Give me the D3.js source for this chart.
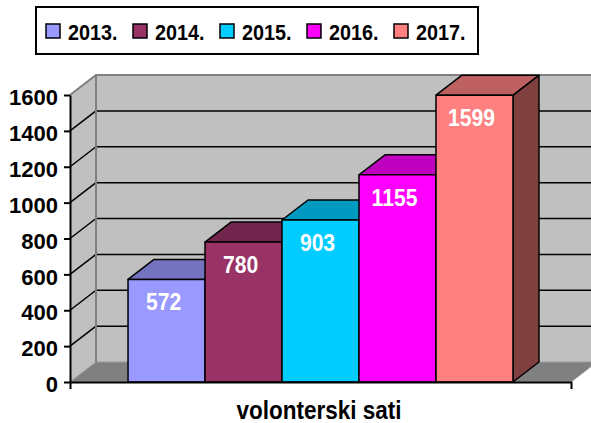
<!DOCTYPE html>
<html>
<head>
<meta charset="utf-8">
<script src="https://cdn.jsdelivr.net/npm/d3@7"></script>
<style>
  body { margin: 0; background: #fff; }
  svg { display: block; font-family: "Liberation Sans", Arial, sans-serif; font-weight: bold; }
</style>
</head>
<body>
<script>
// podaci
const category = ["volonterski sati"];
const years = ["2013.", "2014.", "2015.", "2016.", "2017."];
const hours = [572, 780, 903, 1155, 1599];
const colors = ["#9999ff", "#993366", "#00ccff", "#ff00ff", "#ff8080"];
const yTicks = [0, 200, 400, 600, 800, 1000, 1200, 1400, 1600];

const width = 591, height = 423;
const plot = { left: 70, right: 571, top: 95, bottom: 382 };
const depth = { dx: 26, dy: -20 };

const svg = d3.select("body").append("svg")
  .attr("width", width)
  .attr("height", height);

const yScale = d3.scaleLinear()
  .domain([0, 1600])
  .range([plot.bottom, plot.top]);
const x0 = d3.scaleBand()
  .domain(category)
  .range([plot.left, plot.right])
  .padding(0.131);
const x1 = d3.scaleBand()
  .domain(years)
  .range([0, x0.bandwidth()]);

function shade(c, k) {
  const r = d3.rgb(c);
  return d3.rgb(r.r * k, r.g * k, r.b * k).formatHex();
}
const pts = (arr) => arr.map(p => p.join(",")).join(" ");

// zidovi i pod
const yTop = yScale(1600), y0 = yScale(0);
const bx = plot.left + depth.dx;
svg.append("rect")
  .attr("x", bx).attr("y", yTop + depth.dy)
  .attr("width", width - bx + 10).attr("height", y0 - yTop)
  .attr("fill", "#c0c0c0");
svg.append("polygon")
  .attr("points", pts([[plot.left, y0], [bx, y0 + depth.dy], [bx, yTop + depth.dy], [plot.left, yTop]]))
  .attr("fill", "#c0c0c0");
svg.append("polygon")
  .attr("points", pts([[plot.left, y0], [bx, y0 + depth.dy], [plot.right + depth.dx, y0 + depth.dy], [plot.right, y0]]))
  .attr("fill", "#808080")
  .attr("stroke", "#999")
  .attr("stroke-width", 1);

// linije mreže
const grid = svg.append("g");
grid.selectAll("line.back")
  .data(yTicks.filter(d => d > 0 && d < 1600))
  .join("line")
  .attr("x1", bx).attr("x2", width)
  .attr("y1", d => yScale(d) + depth.dy).attr("y2", d => yScale(d) + depth.dy)
  .attr("stroke", "#000").attr("stroke-width", 1.5);
grid.selectAll("line.side")
  .data(yTicks.filter(d => d > 0 && d < 1600))
  .join("line")
  .attr("x1", plot.left).attr("x2", bx)
  .attr("y1", d => yScale(d)).attr("y2", d => yScale(d) + depth.dy)
  .attr("stroke", "#000").attr("stroke-width", 1.5);
// rubovi zidova
svg.append("path")
  .attr("d", `M${plot.left},${yTop}L${bx},${yTop + depth.dy}L${width},${yTop + depth.dy}M${bx},${yTop + depth.dy}L${bx},${y0 + depth.dy}`)
  .attr("fill", "none").attr("stroke", "#808080").attr("stroke-width", 2);

// stupci
const bars = svg.append("g")
  .attr("stroke", "#000").attr("stroke-width", 1.5).attr("stroke-linejoin", "round");
years.forEach((yr, i) => {
  const xl = x0(category[0]) + x1(yr);
  const xr = xl + x1.bandwidth();
  const yt = yScale(hours[i]);
  const g = bars.append("g");
  g.append("polygon")
    .attr("points", pts([[xr, y0], [xr + depth.dx, y0 + depth.dy], [xr + depth.dx, yt + depth.dy], [xr, yt]]))
    .attr("fill", shade(colors[i], 0.5));
  g.append("polygon")
    .attr("points", pts([[xl, yt], [xl + depth.dx, yt + depth.dy], [xr + depth.dx, yt + depth.dy], [xr, yt]]))
    .attr("fill", shade(colors[i], 0.75));
  g.append("rect")
    .attr("x", xl).attr("y", yt)
    .attr("width", x1.bandwidth()).attr("height", y0 - yt)
    .attr("fill", colors[i]);
});

// oznake vrijednosti
svg.append("g").selectAll("g")
  .data(hours)
  .join("g")
  .attr("transform", (d, i) => `translate(${x0(category[0]) + x1(years[i]) + x1.bandwidth() / 2 - 3},${yScale(d) + 31}) scale(0.88,1)`)
  .append("text")
  .attr("text-anchor", "middle")
  .attr("font-size", 24)
  .attr("fill", "#fff")
  .text(d => d);

// osi
const yAxis = svg.append("g")
  .attr("transform", `translate(${plot.left},0)`)
  .call(d3.axisLeft(yScale).tickValues(yTicks).tickFormat(d3.format("d")).tickSize(6).tickSizeOuter(0));
yAxis.selectAll("path, line").attr("stroke", "#000").attr("stroke-width", 2);
yAxis.selectAll("text")
  .attr("font-size", 22).attr("font-family", "Liberation Sans, Arial, sans-serif")
  .attr("font-weight", "bold").attr("fill", "#000")
  .attr("x", -12).attr("dy", "0.44em");

const xAxis = svg.append("g")
  .attr("transform", `translate(0,${plot.bottom})`)
  .call(d3.axisBottom(x0).tickValues([]).tickSizeOuter(7));
xAxis.select("path").attr("stroke", "#000").attr("stroke-width", 2);

svg.append("g")
  .attr("transform", `translate(319,419) scale(0.9,1)`)
  .append("text")
  .attr("text-anchor", "middle")
  .attr("font-size", 25)
  .text(category[0]);

// legenda
const legend = svg.append("g");
legend.append("rect")
  .attr("x", 36).attr("y", 7).attr("width", 442).attr("height", 47)
  .attr("fill", "#fff").attr("stroke", "#000").attr("stroke-width", 2);
const item = legend.selectAll("g.item")
  .data(years)
  .join("g")
  .attr("transform", (d, i) => `translate(${46 + i * 87},24)`);
item.append("rect")
  .attr("width", 14).attr("height", 14)
  .attr("fill", (d, i) => colors[i])
  .attr("stroke", "#000").attr("stroke-width", 1.5);
item.append("g")
  .attr("transform", "translate(22,16) scale(0.9,1)")
  .append("text")
  .attr("font-size", 22)
  .text(d => d);
</script>
</body>
</html>
